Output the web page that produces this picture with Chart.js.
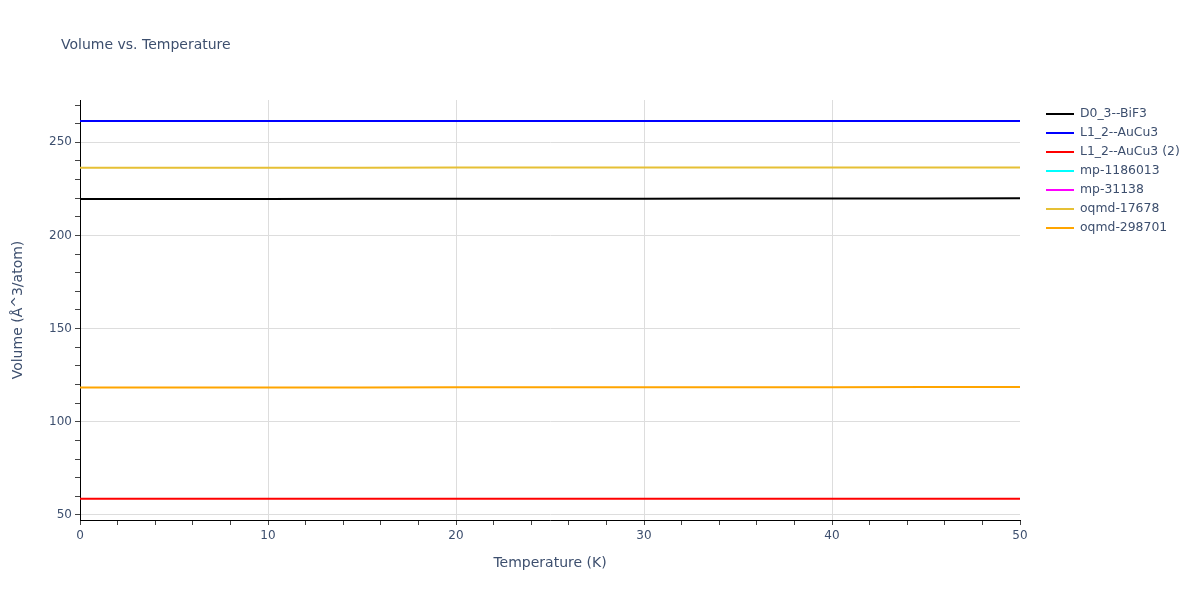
<!DOCTYPE html>
<html>
<head>
<meta charset="utf-8">
<script src="https://cdn.jsdelivr.net/npm/chart.js@4.4.0/dist/chart.umd.min.js"></script>
<style>
html,body{margin:0;padding:0;background:#fff;}
#wrap{width:1200px;height:600px;position:relative;}
</style>
</head>
<body>
<div id="wrap"><canvas id="c" width="1200" height="600"></canvas></div>
<script>
// ---- data ----
const temperatures = [0, 5, 10, 15, 20, 25, 30, 35, 40, 45, 50];
const seriesNames = ["D0_3--BiF3", "L1_2--AuCu3", "L1_2--AuCu3 (2)", "mp-1186013", "mp-31138", "oqmd-17678", "oqmd-298701"];
const seriesColors = ["#000000", "#0000ff", "#ff0000", "#00ffff", "#ff00ff", "#e6c035", "#ffa500"];
const volD03 = [219.6, 219.6, 219.6, 219.65, 219.7, 219.7, 219.75, 219.8, 219.85, 219.9, 219.95];
const volL12 = [261.4, 261.4, 261.4, 261.4, 261.4, 261.4, 261.4, 261.4, 261.4, 261.4, 261.4];
const volL12b = [58.7, 58.7, 58.7, 58.7, 58.7, 58.7, 58.7, 58.7, 58.7, 58.7, 58.7];
const volMp1186013 = [];   // not visible in the chart (legend only)
const volMp31138 = [];     // not visible in the chart (legend only)
const volOqmd17678 = [236.4, 236.4, 236.4, 236.4, 236.45, 236.45, 236.45, 236.5, 236.5, 236.5, 236.5];
const volOqmd298701 = [118.35, 118.4, 118.4, 118.45, 118.5, 118.5, 118.55, 118.6, 118.6, 118.65, 118.7];
const allSeries = [volD03, volL12, volL12b, volMp1186013, volMp31138, volOqmd17678, volOqmd298701];
const yMin = 47.3, yMax = 272.7;
const xMin = 0, xMax = 50;

const FONT = '"DejaVu Sans", Verdana, sans-serif';
const TXT = '#3d4f6e';

const datasets = seriesNames.map((name, i) => ({
  label: name,
  data: allSeries[i].map((v, k) => ({x: temperatures[k], y: v})),
  borderColor: seriesColors[i],
  backgroundColor: seriesColors[i],
  borderWidth: 2,
  pointRadius: 0,
  fill: false,
  tension: 0,
  order: seriesNames.length - i
}));

const overlay = {
  id: 'overlay',
  afterDraw(chart) {
    const ctx = chart.ctx;
    ctx.save();
    // title
    ctx.fillStyle = TXT;
    ctx.font = '14px ' + FONT;
    ctx.textBaseline = 'middle';
    ctx.textAlign = 'left';
    ctx.fillText('Volume vs. Temperature', 61, 45);
    // legend
    ctx.font = '12.4px ' + FONT;
    seriesNames.forEach((n, i) => {
      const y = 114 + i * 19;
      ctx.strokeStyle = seriesColors[i];
      ctx.lineWidth = 2;
      ctx.beginPath();
      ctx.moveTo(1046, y);
      ctx.lineTo(1074, y);
      ctx.stroke();
      ctx.fillStyle = TXT;
      ctx.fillText(n, 1080, y);
    });
    ctx.restore();
  }
};

new Chart(document.getElementById('c'), {
  type: 'line',
  data: { datasets },
  options: {
    responsive: false,
    animation: false,
    devicePixelRatio: 1,
    layout: { padding: { top: 100, right: 180, left: 0, bottom: 0 } },
    plugins: { legend: { display: false }, tooltip: { enabled: false } },
    scales: {
      x: {
        type: 'linear',
        min: xMin, max: xMax,
        afterBuildTicks(scale) {
          const t = [];
          for (let v = xMin; v <= xMax; v += 2) t.push({ value: v });
          scale.ticks = t;
        },
        afterFit(scale) { scale.height = 80; },
        border: { display: true, color: '#000', width: 1 },
        grid: {
          drawTicks: true,
          tickLength: 5,
          color: c => (c.tick && c.tick.value % 10 === 0 && c.tick.value > xMin && c.tick.value < xMax) ? '#dddddd' : 'rgba(0,0,0,0)',
          tickColor: '#444'
        },
        ticks: {
          color: TXT,
          font: { family: FONT, size: 12 },
          padding: 4,
          maxRotation: 0,
          autoSkip: false,
          callback: v => (v % 10 === 0 ? String(v) : '')
        },
        title: { display: false }
      },
      y: {
        type: 'linear',
        min: yMin, max: yMax,
        afterBuildTicks(scale) {
          const t = [];
          for (let v = 50; v <= 270; v += 10) t.push({ value: v });
          scale.ticks = t;
        },
        afterFit(scale) { scale.width = 80; },
        border: { display: true, color: '#000', width: 1 },
        grid: {
          drawTicks: true,
          tickLength: 5,
          color: c => (c.tick && c.tick.value % 50 === 0) ? '#dddddd' : 'rgba(0,0,0,0)',
          tickColor: '#444'
        },
        ticks: {
          color: TXT,
          font: { family: FONT, size: 12 },
          padding: 3,
          autoSkip: false,
          callback: v => (v % 50 === 0 ? String(v) : '')
        },
        title: { display: false }
      }
    }
  },
  plugins: [overlay, {
    id: 'axisTitles',
    afterDraw(chart) {
      const ctx = chart.ctx;
      const a = chart.chartArea;
      ctx.save();
      ctx.fillStyle = TXT;
      ctx.font = '14px ' + FONT;
      ctx.textAlign = 'center';
      ctx.textBaseline = 'middle';
      ctx.fillText('Temperature (K)', (a.left + a.right) / 2, 563);
      ctx.translate(18, (a.top + a.bottom) / 2);
      ctx.rotate(-Math.PI / 2);
      ctx.fillText('Volume (Å^3/atom)', 0, 0);
      ctx.restore();
    }
  }]
});
</script>
</body>
</html>
